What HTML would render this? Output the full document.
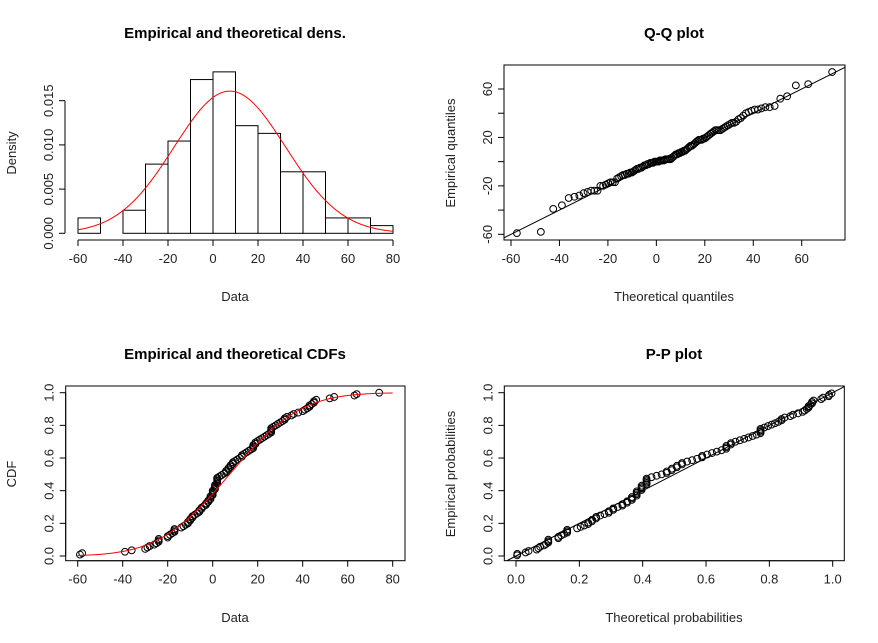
<!DOCTYPE html>
<html><head><meta charset="utf-8"><style>
html,body{margin:0;background:#fff;width:878px;height:643px;overflow:hidden}
svg{display:block;font-family:"Liberation Sans",Arial,sans-serif}
</style></head><body>
<svg id="fig" width="878" height="643" viewBox="0 0 878 643" xmlns="http://www.w3.org/2000/svg"></svg>
<script>
const dataValues = [-59,-58,-39,-36,-30,-29,-28,-26,-25,-24,-24,-24,-20,-20,
-19,-18,-17,-17,-17,-14,-13,-12,-11,-11,-10,-10,
-9,-9,-8,-7,-6,-6,-5,-5,-4,-3,-3,-2,-2,-1,-1,-1,0,0,0,0,
1,1,1,1,2,2,2,2,2,3,4,5,6,6,7,7,8,8,9,9,10,
11,12,13,13,14,15,16,17,18,18,18,19,19,20,
21,22,23,24,25,26,26,26,26,27,28,29,30,
31,32,32,33,35,36,38,40,
41,42,43,43,44,45,45,46,
52,54,63,64,74];
const fitMean = [7.5];
const fitSd = [24.8];
const histBreaks = [-60,-50,-40,-30,-20,-10,0,10,20,30,40,50,60,70,80];
const dataTicks = [-60,-40,-20,0,20,40,60,80];
const densTicks = [0,0.005,0.010,0.015];
const densTickLabels = ["0.000","0.005","0.010","0.015"];
const qqXTicks = [-60,-40,-20,0,20,40,60];
const qqYTicks = [-60,-40,-20,0,20,40,60];
const qqYLabels = ["-60","","-20","","20","","60"];
const probTicks = [0,0.2,0.4,0.6,0.8,1.0];
const probTickLabels = ["0.0","0.2","0.4","0.6","0.8","1.0"];

const svg = document.getElementById('fig');
const NS = 'http://www.w3.org/2000/svg';
function mk(tag, attrs, parent){const e=document.createElementNS(NS,tag);for(const k in attrs)e.setAttribute(k,attrs[k]);(parent||svg).appendChild(e);return e;}
function erf(x){const s=x<0?-1:1;x=Math.abs(x);const t=1/(1+0.3275911*x);const y=1-(((((1.061405429*t-1.453152027)*t)+1.421413741)*t-0.284496736)*t+0.254829592)*t*Math.exp(-x*x);return s*y;}
function pnorm(x,m,s){return 0.5*(1+erf((x-m)/(s*Math.SQRT2)));}
function dnorm(x,m,s){return Math.exp(-0.5*((x-m)/s)**2)/(s*Math.sqrt(2*Math.PI));}
function qnorm(p,m,s){let lo=-10,hi=10;for(let i=0;i<80;i++){const mid=(lo+hi)/2;if(pnorm(mid,0,1)<p)lo=mid;else hi=mid;}return m+s*(lo+hi)/2;}
const lin=(d0,d1,r0,r1)=>v=>r0+(v-d0)*(r1-r0)/(d1-d0);
const M=fitMean[0], S=fitSd[0];
const sorted=[...dataValues].sort((a,b)=>a-b);
const n=sorted.length;

function text(str,x,y,opts,g){const t=mk('text',{x:x,y:y,'font-size':opts.size||13,'text-anchor':'middle',fill:'#222'},g);if(opts.bold){t.setAttribute('font-weight','bold');t.setAttribute('fill','#000');}if(opts.rot)t.setAttribute('transform','rotate(-90 '+x+' '+y+')');t.textContent=str;return t;}
function xAxis(g,ticks,labels,sx,y,name){const ax=mk('g',{},g);
 mk('line',{x1:sx(ticks[0]),x2:sx(ticks[ticks.length-1]),y1:y,y2:y,stroke:'#000'},ax);
 ticks.forEach((v,i)=>{mk('line',{x1:sx(v),x2:sx(v),y1:y,y2:y+6,stroke:'#000'},ax);const t=text(labels[i],sx(v),y+23,{},ax);});}
function yAxis(g,ticks,labels,sy,x,name){const ax=mk('g',{},g);
 mk('line',{x1:x,x2:x,y1:sy(ticks[0]),y2:sy(ticks[ticks.length-1]),stroke:'#000'},ax);
 ticks.forEach((v,i)=>{mk('line',{x1:x,x2:x-6,y1:sy(v),y2:sy(v),stroke:'#000'},ax);if(labels[i]){const t=text(labels[i],x-12,sy(v),{rot:true},ax);}});}
function panel(name){const g=mk('g',{});return g;}
function circle(g,x,y){const c=mk('circle',{cx:x,cy:y,r:3.4,fill:'none',stroke:'#000','stroke-width':1},g);}

// ---- Panel 1: histogram + density
{const g=panel('density-panel');
 const sx=lin(-60,80,78,393), sy=lin(0,0.015,233.3,100.7);
 for(let i=0;i<histBreaks.length-1;i++){const a=histBreaks[i],b=histBreaks[i+1];
  const c=dataValues.filter(v=>(i===0?v>=a:v>a)&&v<=b).length;const d=c/(n*(b-a));
  const r=mk('rect',{x:sx(a),y:sy(d),width:sx(b)-sx(a),height:sy(0)-sy(d),fill:'#fff',stroke:'#000','stroke-width':1},g);
  }
 let p='';for(let i=0;i<=200;i++){const v=-60+140*i/200;p+=(i?'L':'M')+sx(v).toFixed(2)+' '+sy(dnorm(v,M,S)).toFixed(2);}
 const cv=mk('path',{d:p,fill:'none',stroke:'#ff0000','stroke-width':1},g);
 xAxis(g,dataTicks,dataTicks.map(String),sx,240,'x-axis');
 yAxis(g,densTicks,densTickLabels,sy,65,'y-axis');
 const t1=text('Empirical and theoretical dens.',235,38,{size:15,bold:true},g);
 const t2=text('Data',235,301,{},g);
 const t3=text('Density',16,153,{rot:true},g);}

// ---- Panel 2: Q-Q
{const g=panel('qq-panel');
 const sx=lin(-60,60,511,801.7), sy=lin(-60,60,234.3,89);
 const bx=mk('rect',{x:504,y:65,width:341,height:175,fill:'none',stroke:'#000'},g);
 const cp=mk('clipPath',{id:'qqclip'},g);mk('rect',{x:504,y:65,width:341,height:175},cp);
 const ln=mk('line',{x1:sx(-100),y1:sy(-100),x2:sx(100),y2:sy(100),stroke:'#000','clip-path':'url(#qqclip)'},g);
 sorted.forEach((v,i)=>circle(g,sx(qnorm((i+0.5)/n,M,S)),sy(v)));
 xAxis(g,qqXTicks,qqXTicks.map(String),sx,240,'x-axis');
 yAxis(g,qqYTicks,qqYLabels,sy,504,'y-axis');
 const t1=text('Q-Q plot',674,38,{size:15,bold:true},g);
 const t2=text('Theoretical quantiles',674,301,{},g);
 const t3=text('Empirical quantiles',455,153,{rot:true},g);}

// ---- Panel 3: CDF
{const g=panel('cdf-panel');
 const sx=lin(-60,80,77.7,392.7), sy=lin(0,1,556,392.7);
 const bx=mk('rect',{x:65.7,y:386,width:339.3,height:174.7,fill:'none',stroke:'#000'},g);
 sorted.forEach((v,i)=>circle(g,sx(v),sy((i+1)/n)));
 let p='';for(let i=0;i<=200;i++){const v=-60+140*i/200;p+=(i?'L':'M')+sx(v).toFixed(2)+' '+sy(pnorm(v,M,S)).toFixed(2);}
 const cv=mk('path',{d:p,fill:'none',stroke:'#ff0000','stroke-width':1},g);
 xAxis(g,dataTicks,dataTicks.map(String),sx,560.7,'x-axis');
 yAxis(g,probTicks,probTickLabels,sy,65.7,'y-axis');
 const t1=text('Empirical and theoretical CDFs',235,359,{size:15,bold:true},g);
 const t2=text('Data',235,622,{},g);
 const t3=text('CDF',16,474,{rot:true},g);}

// ---- Panel 4: P-P
{const g=panel('pp-panel');
 const sx=lin(0,1,516,832.7), sy=lin(0,1,556,392.7);
 const bx=mk('rect',{x:504.3,y:386,width:340,height:174.7,fill:'none',stroke:'#000'},g);
 const cp=mk('clipPath',{id:'ppclip'},g);mk('rect',{x:504.3,y:386,width:340,height:174.7},cp);
 const ln=mk('line',{x1:sx(-1),y1:sy(-1),x2:sx(2),y2:sy(2),stroke:'#000','clip-path':'url(#ppclip)'},g);
 sorted.forEach((v,i)=>circle(g,sx(pnorm(v,M,S)),sy((i+0.5)/n)));
 xAxis(g,probTicks,probTickLabels,sx,560.7,'x-axis');
 yAxis(g,probTicks,probTickLabels,sy,504.3,'y-axis');
 const t1=text('P-P plot',674,359,{size:15,bold:true},g);
 const t2=text('Theoretical probabilities',674,622,{},g);
 const t3=text('Empirical probabilities',455,474,{rot:true},g);}
</script>
</body></html>
